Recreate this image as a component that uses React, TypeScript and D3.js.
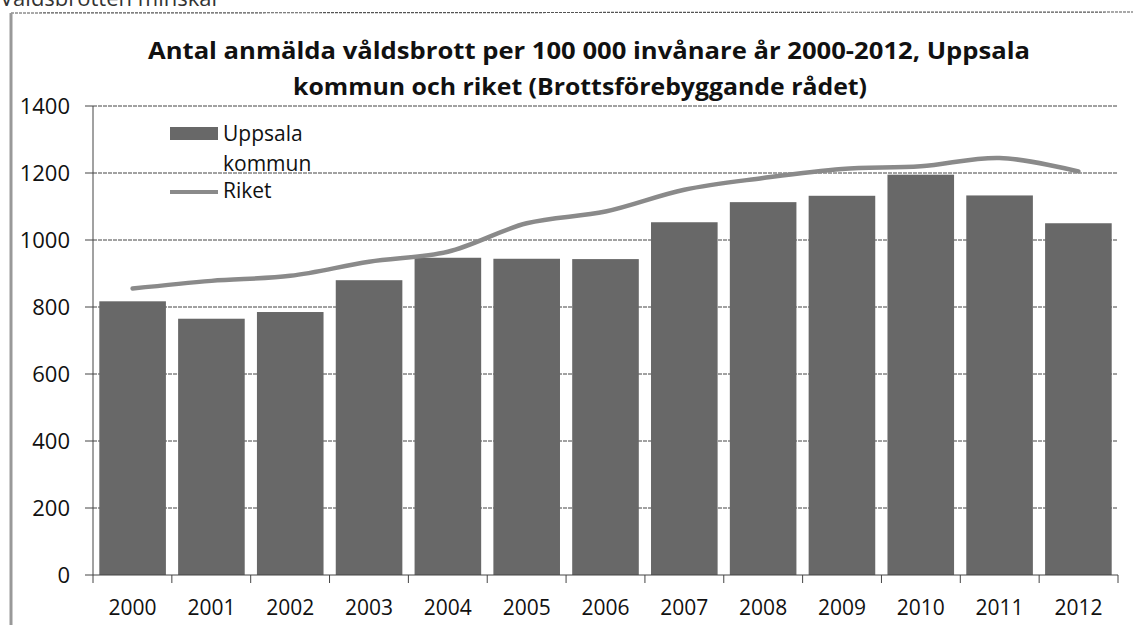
import React from "react";
import * as d3 from "d3";

const years = ["2000","2001","2002","2003","2004","2005","2006","2007","2008","2009","2010","2011","2012"];
const uppsala = [817, 765, 785, 880, 947, 944, 943, 1053, 1113, 1132, 1195, 1133, 1050];
const riket = [855, 878, 893, 935, 965, 1050, 1085, 1150, 1185, 1212, 1220, 1245, 1205];
const yTicks = [0, 200, 400, 600, 800, 1000, 1200, 1400];
const titleLines = [
  "Antal anmälda våldsbrott per 100 000 invånare år 2000-2012, Uppsala",
  "kommun och riket (Brottsförebyggande rådet)",
];
const legendLabels = ["Uppsala", "kommun", "Riket"];

const W = 1141, H = 625;
const font = "'Open Sans', 'DejaVu Sans', sans-serif";

export default function App() {
  const x0 = 93, x1 = 1118, yTop = 106, yBot = 575;
  const x = d3.scaleBand<string>().domain(years).range([x0, x1]).paddingInner(0.155).paddingOuter(0.08);
  const step = (x1 - x0) / years.length;
  const y = d3.scaleLinear().domain([0, 1400]).range([yBot, yTop]);
  const line = d3.line<number>()
    .x((_, i) => x(years[i])! + x.bandwidth() / 2)
    .y(d => y(d))
    .curve(d3.curveCatmullRom.alpha(0.5));

  return (
    <svg width={W} height={H} style={{ position: "absolute", left: 0, top: 0, background: "#fff" }}>
      <rect x={0} y={0} width={W} height={H} fill="#fff" />
      <text x={0} y={6} fontFamily={font} fontSize={22} fill="#333">Våldsbrotten minskar</text>
      <line x1={11} x2={1133} y1={13} y2={12} stroke="#555" strokeWidth={1.2} strokeDasharray="3,1" />
      <line x1={11} x2={11} y1={13} y2={625} stroke="#999" strokeWidth={3} />

      {titleLines.map((t, i) => (
        <text key={i} x={i === 0 ? 589 : 580} y={i === 0 ? 59 : 95} textAnchor="middle"
          fontFamily={font} fontWeight="bold" fontSize={23} fill="#111"
          textLength={i === 0 ? 882 : 574} lengthAdjust="spacingAndGlyphs">{t}</text>
      ))}

      {yTicks.map(t => (
        <g key={t}>
          {t > 0 && <line x1={x0} x2={x1} y1={y(t)} y2={y(t)} stroke="#444" strokeWidth={1} strokeDasharray="4,1" />}
          <line x1={85} x2={x0} y1={y(t)} y2={y(t)} stroke="#444" strokeWidth={1} />
          <text x={70} y={y(t)} dy="0.36em" textAnchor="end" fontFamily={font} fontSize={22} fill="#111">{t}</text>
        </g>
      ))}

      {uppsala.map((v, i) => (
        <rect key={i} x={x(years[i])} y={y(v)} width={x.bandwidth()} height={y(0) - y(v)} fill="#686868" />
      ))}

      <line x1={x0} x2={x0} y1={yTop} y2={yBot} stroke="#444" strokeWidth={1} />
      <line x1={x0} x2={x1} y1={yBot} y2={yBot} stroke="#444" strokeWidth={1} />
      {d3.range(years.length + 1).map(i => (
        <line key={i} x1={x0 + i * step} x2={x0 + i * step} y1={yBot} y2={yBot + 8} stroke="#444" strokeWidth={1} />
      ))}
      {years.map(yr => (
        <text key={yr} x={x(yr)! + x.bandwidth() / 2} y={615} textAnchor="middle" fontFamily={font} fontSize={21} fill="#111">{yr}</text>
      ))}

      <path d={line(riket) ?? ""} fill="none" stroke="#8a8a8a" strokeWidth={4.5} strokeLinecap="round" />

      <rect x={170} y={127} width={48} height={13} fill="#686868" />
      <line x1={170} x2={218} y1={192} y2={192} stroke="#8a8a8a" strokeWidth={4} />
      <text x={223} y={141} fontFamily={font} fontSize={21} fill="#111">{legendLabels[0]}</text>
      <text x={223} y={171} fontFamily={font} fontSize={21} fill="#111">{legendLabels[1]}</text>
      <text x={223} y={198} fontFamily={font} fontSize={21} fill="#111">{legendLabels[2]}</text>
    </svg>
  );
}
